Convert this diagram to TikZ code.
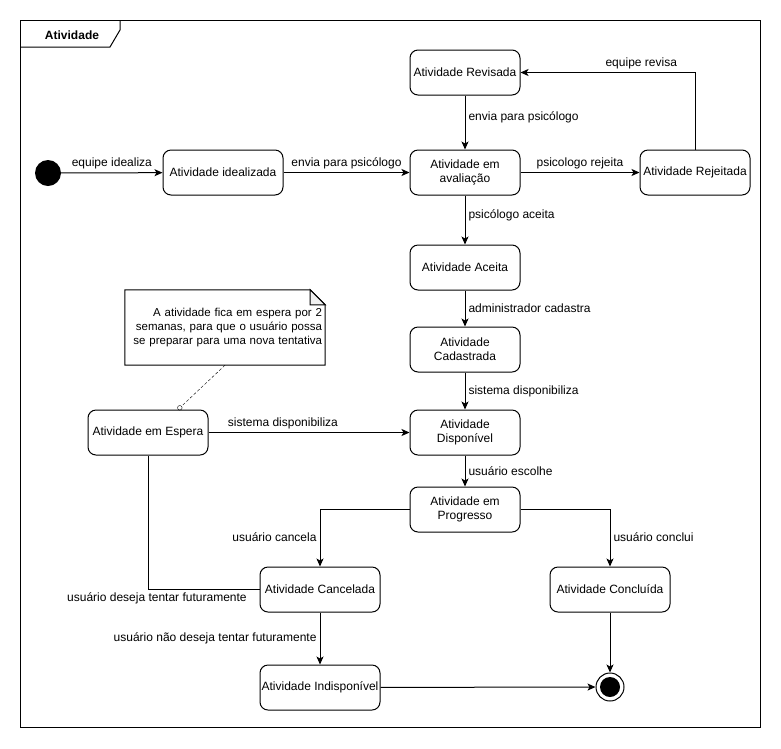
\documentclass[tikz,border=0pt]{standalone}
\usepackage{fontspec}
\setmainfont{Liberation Sans}
\usetikzlibrary{arrows.meta,positioning,calc}
\tikzset{every node/.append style={align=center}}

\begin{document}
\begin{tikzpicture}[x=1pt, y=-1pt,
    state/.style={draw, line width=1pt, rounded corners=8pt, minimum width=110pt, minimum height=45pt, inner sep=1pt, font=\fontsize{12}{14}\selectfont},
    wide/.style={state, minimum width=120pt},
    trans/.style={line width=1pt, -{Stealth[length=8pt, width=7pt, inset=2pt]}},
    lbl/.style={font=\fontsize{12}{14}\selectfont, inner sep=3pt},
    start/.style={circle, fill=black, minimum size=26pt, inner sep=0pt},
    final/.style={circle, draw, line width=1pt, minimum size=28pt, inner sep=0pt, path picture={\fill (path picture bounding box.center) circle (10pt);}},
    notebox/.style={minimum width=200pt, minimum height=75pt, inner sep=0pt, text width=194pt, align=right, font=\fontsize{11.5}{14}\selectfont},
]
    \useasboundingbox (0,0) rectangle (781,748);

    % Frame
    \draw[line width=1pt] (20,20) rectangle (760,727);
    \draw[line width=1pt] (120,20) -- (120,30) -- (110,47) -- (20,47);
    \node[font=\fontsize{12}{14}\selectfont\bfseries] (frametitle) at (72,35) {Atividade};

    % States
    \node[start] (inicio) at (48,173) {};
    \node[wide] (idealizada) at (223,172.5) {Atividade idealizada};
    \node[state] (revisada) at (465,72.5) {Atividade Revisada};
    \node[state] (avaliacao) at (465,172.5) {Atividade em\\avaliação};
    \node[state] (rejeitada) at (695,172.5) {Atividade Rejeitada};
    \node[state] (aceita) at (465,267.5) {Atividade Aceita};
    \node[state] (cadastrada) at (465,349.5) {Atividade\\Cadastrada};
    \node[state] (disponivel) at (465,432.5) {Atividade\\Disponível};
    \node[state] (progresso) at (465,509.5) {Atividade em\\Progresso};
    \node[wide] (espera) at (148,432.5) {Atividade em Espera};
    \node[wide] (cancelada) at (320,589.5) {Atividade Cancelada};
    \node[wide] (concluida) at (610,589.5) {Atividade Concluída};
    \node[wide] (indisponivel) at (320,687.5) {Atividade Indisponível};
    \node[final] (fim) at (610,687) {};

    % Note
    \node[notebox] (nota) at (225,327.5) {A atividade fica em espera por 2\\semanas, para que o usuário possa\\se preparar para uma nova tentativa};
    \draw[line width=1pt] (nota.north west) -- ([xshift=-15pt]nota.north east) -- ([yshift=-15pt]nota.north east) -- (nota.south east) -- (nota.south west) -- cycle;
    \draw[line width=1pt, fill=black!6] ([xshift=-15pt]nota.north east) -- ([xshift=-15pt, yshift=-15pt]nota.north east) -- ([yshift=-15pt]nota.north east) -- cycle;
    \draw[dashed, dash pattern=on 3pt off 2pt, -{Circle[open, length=5pt]}] (nota.south) -- ([xshift=30pt]espera.north);

    % Transitions
    \draw[trans] (inicio) -- (idealizada) node[lbl, midway, above] {equipe idealiza};
    \draw[trans] (idealizada) -- (avaliacao) node[lbl, midway, above] {envia para psicólogo};
    \draw[trans] (revisada) -- (avaliacao) node[lbl, pos=0.4, right] {envia para psicólogo};
    \draw[trans] (avaliacao) -- (rejeitada) node[lbl, midway, above] {psicologo rejeita};
    \draw[trans] (rejeitada) |- (revisada) node[lbl, pos=0.654, above] {equipe revisa};
    \draw[trans] (avaliacao) -- (aceita) node[lbl, pos=0.4, right] {psicólogo aceita};
    \draw[trans] (aceita) -- (cadastrada) node[lbl, midway, right] {administrador cadastra};
    \draw[trans] (cadastrada) -- (disponivel) node[lbl, midway, right] {sistema disponibiliza};
    \draw[trans] (espera) -- (disponivel) node[lbl, pos=0.37, above] {sistema disponibiliza};
    \draw[trans] (disponivel) -- (progresso) node[lbl, midway, right] {usuário escolhe};
    \draw[trans] (progresso) -| (cancelada) node[lbl, pos=0.74, left] {usuário cancela};
    \draw[trans] (progresso) -| (concluida) node[lbl, pos=0.74, right] {usuário conclui};
    \draw[line width=1pt] (cancelada) -| (espera) node[lbl, pos=0.46, below] {usuário deseja tentar futuramente};
    \draw[trans] (cancelada) -- (indisponivel) node[lbl, midway, left] {usuário não deseja tentar futuramente};
    \draw[trans] (concluida) -- (fim);
    \draw[trans] (indisponivel) -- (fim);

\end{tikzpicture}
\end{document}
